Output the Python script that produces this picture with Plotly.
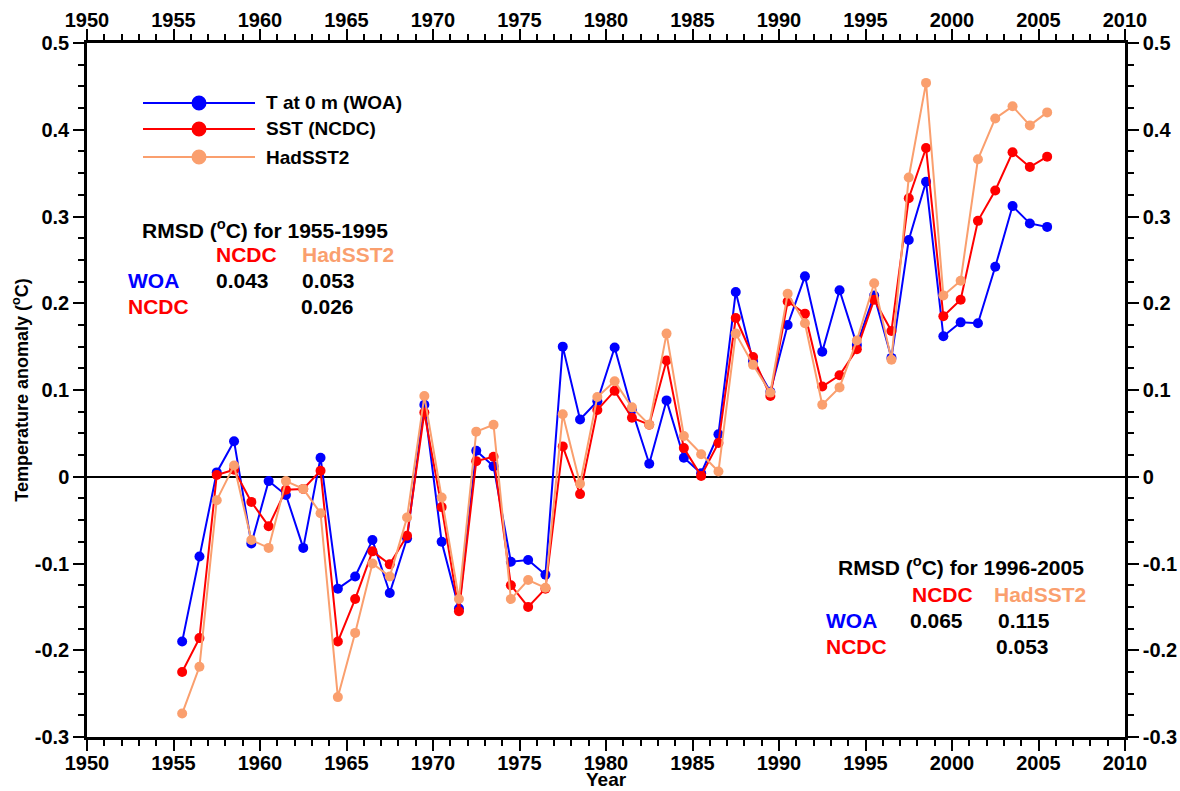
import plotly.graph_objects as go

# ---------------- data ----------------
years = [1955.5 + i for i in range(51)]

woa = [-0.190, -0.092, 0.005, 0.041, -0.077, -0.005, -0.021, -0.082, 0.022, -0.129,
       -0.115, -0.073, -0.134, -0.071, 0.083, -0.075, -0.152, 0.030, 0.012, -0.098,
       -0.096, -0.113, 0.150, 0.066, 0.087, 0.149, 0.077, 0.015, 0.088, 0.022,
       0.004, 0.049, 0.213, 0.133, 0.098, 0.175, 0.231, 0.144, 0.215, 0.152,
       0.209, 0.137, 0.273, 0.340, 0.162, 0.178, 0.177, 0.242, 0.312, 0.292,
       0.288]

ncdc = [-0.225, -0.186, 0.002, 0.008, -0.029, -0.057, -0.015, -0.014, 0.007, -0.190,
        -0.141, -0.086, -0.101, -0.068, 0.074, -0.035, -0.155, 0.018, 0.023, -0.125,
        -0.150, -0.129, 0.035, -0.020, 0.077, 0.099, 0.068, 0.060, 0.134, 0.033,
        0.001, 0.039, 0.183, 0.138, 0.093, 0.202, 0.188, 0.104, 0.117, 0.147,
        0.204, 0.168, 0.321, 0.379, 0.185, 0.204, 0.295, 0.330, 0.374, 0.357,
        0.369]

hadsst2 = [-0.273, -0.219, -0.027, 0.013, -0.073, -0.082, -0.005, -0.014, -0.042, -0.254,
           -0.180, -0.100, -0.115, -0.047, 0.093, -0.024, -0.141, 0.052, 0.060, -0.141,
           -0.119, -0.128, 0.072, -0.008, 0.092, 0.110, 0.080, 0.060, 0.165, 0.047,
           0.026, 0.006, 0.165, 0.129, 0.097, 0.211, 0.177, 0.083, 0.103, 0.157,
           0.223, 0.135, 0.345, 0.454, 0.209, 0.226, 0.366, 0.413, 0.427, 0.405,
           0.420]

series_names = ["T at 0 m (WOA)", "SST (NCDC)", "HadSST2"]
series_colors = ["#0000FF", "#FF0000", "#FA9F6E"]

x_tick_vals = [1950, 1955, 1960, 1965, 1970, 1975, 1980, 1985, 1990, 1995, 2000, 2005, 2010]
x_tick_text = [str(v) for v in x_tick_vals]
y_tick_vals = [-0.3, -0.2, -0.1, 0.0, 0.1, 0.2, 0.3, 0.4, 0.5]
y_tick_text = ["-0.3", "-0.2", "-0.1", "0", "0.1", "0.2", "0.3", "0.4", "0.5"]

FONT = "Liberation Sans, Arial, sans-serif"

# ---------------- figure ----------------
fig = go.Figure()
for name, vals, col in zip(series_names, [woa, ncdc, hadsst2], series_colors):
    fig.add_trace(go.Scatter(
        x=years, y=vals, mode="lines+markers", name=name,
        line=dict(color=col, width=2),
        marker=dict(color=col, size=10),
        showlegend=False,
    ))

# invisible trace to anchor the top/right mirror axes
fig.add_trace(go.Scatter(x=[2000], y=[0], xaxis="x2", yaxis="y2", mode="markers",
                         marker=dict(opacity=0), hoverinfo="skip", showlegend=False))

L, R, T, B = 87, 55, 43, 54
W, H = 1180, 791
pw, ph = W - L - R, H - T - B


def px(xp):
    return (xp - L) / pw


def py(yp):
    return (H - B - yp) / ph


axis_common = dict(showline=True, linecolor="black", linewidth=2.5, ticks="outside",
                   ticklen=11, tickwidth=2, tickcolor="black", showgrid=False,
                   automargin=False,
                   tickfont=dict(family=FONT, size=20, color="black", weight="bold"))

fig.update_layout(
    width=W, height=H,
    margin=dict(l=L, r=R, t=T, b=B, autoexpand=False),
    paper_bgcolor="white", plot_bgcolor="white",
    font=dict(family=FONT, color="black"),
    xaxis=dict(range=[1950, 2010], tickvals=x_tick_vals, ticktext=x_tick_text,
               zeroline=False, ticklabelstandoff=-5,
               minor=dict(dtick=1, ticks="outside", ticklen=6, tickwidth=2, tickcolor="black"),
               **axis_common),
    xaxis2=dict(range=[1950, 2010], tickvals=x_tick_vals, ticktext=x_tick_text,
                overlaying="x", side="top", anchor="y", zeroline=False,
                ticklabelstandoff=-6,
                minor=dict(dtick=1, ticks="outside", ticklen=6, tickwidth=2, tickcolor="black"),
                **axis_common),
    yaxis=dict(range=[-0.3, 0.5], tickvals=y_tick_vals, ticktext=y_tick_text,
               zeroline=True, zerolinecolor="black", zerolinewidth=2,
               minor=dict(dtick=0.025, tick0=0, ticks="outside", ticklen=6, tickwidth=2, tickcolor="black"),
               title=dict(text="<b>Temperature anomaly (<sup>o</sup>C)</b>",
                          font=dict(family=FONT, size=18), standoff=2),
               **axis_common),
    yaxis2=dict(range=[-0.3, 0.5], tickvals=y_tick_vals, ticktext=y_tick_text,
                overlaying="y", side="right", anchor="x", zeroline=False,
                minor=dict(dtick=0.025, tick0=0, ticks="outside", ticklen=6, tickwidth=2, tickcolor="black"),
                **axis_common),
)

# ---------------- custom legend ----------------
legend_rows_y = [103, 129, 157]
shapes = []
annotations = []
for name, col, yrow in zip(series_names, series_colors, legend_rows_y):
    shapes.append(dict(type="line", xref="paper", yref="paper",
                       x0=px(143), x1=px(255), y0=py(yrow), y1=py(yrow),
                       line=dict(color=col, width=1.8)))
    shapes.append(dict(type="circle", xref="paper", yref="paper",
                       xsizemode="pixel", ysizemode="pixel",
                       xanchor=px(199), yanchor=py(yrow),
                       x0=-7.5, x1=7.5, y0=-7.5, y1=7.5,
                       fillcolor=col, line=dict(color=col, width=0)))
    annotations.append(dict(text=f"<b>{name}</b>", xref="paper", yref="paper",
                            x=px(264), y=py(yrow), xanchor="left", yanchor="middle",
                            showarrow=False, font=dict(family=FONT, size=19, color="black")))


def txt(s, xp, yp, col="black", size=21, anchor="left"):
    annotations.append(dict(text=f"<b>{s}</b>", xref="paper", yref="paper",
                            x=px(xp), y=py(yp), xanchor=anchor, yanchor="middle",
                            borderpad=0,
                            showarrow=False, font=dict(family=FONT, size=size, color=col)))


BLUE, RED, ORANGE = series_colors

# x-axis title
txt("Year", (L + W - R) / 2, 779, size=19, anchor="center")

# top-left RMSD table
txt("RMSD (<sup>o</sup>C) for 1955-1995", 141, 229)
txt("NCDC", 215, 254, RED)
txt("HadSST2", 301, 254, ORANGE)
txt("WOA", 127, 280, BLUE)
txt("0.043", 215, 280)
txt("0.053", 301, 280)
txt("NCDC", 127, 306, RED)
txt("0.026", 300, 306)

# bottom-right RMSD table
txt("RMSD (<sup>o</sup>C) for 1996-2005", 837, 566)
txt("NCDC", 911, 594, RED)
txt("HadSST2", 993, 594, ORANGE)
txt("WOA", 825, 620, BLUE)
txt("0.065", 909, 620)
txt("0.115", 997, 620)
txt("NCDC", 825, 646, RED)
txt("0.053", 995, 646)

fig.update_layout(shapes=shapes, annotations=annotations)

fig.write_html("out.html",
               config={"displayModeBar": False},
               post_script="document.body.style.margin='0px';document.body.style.padding='0px';")
